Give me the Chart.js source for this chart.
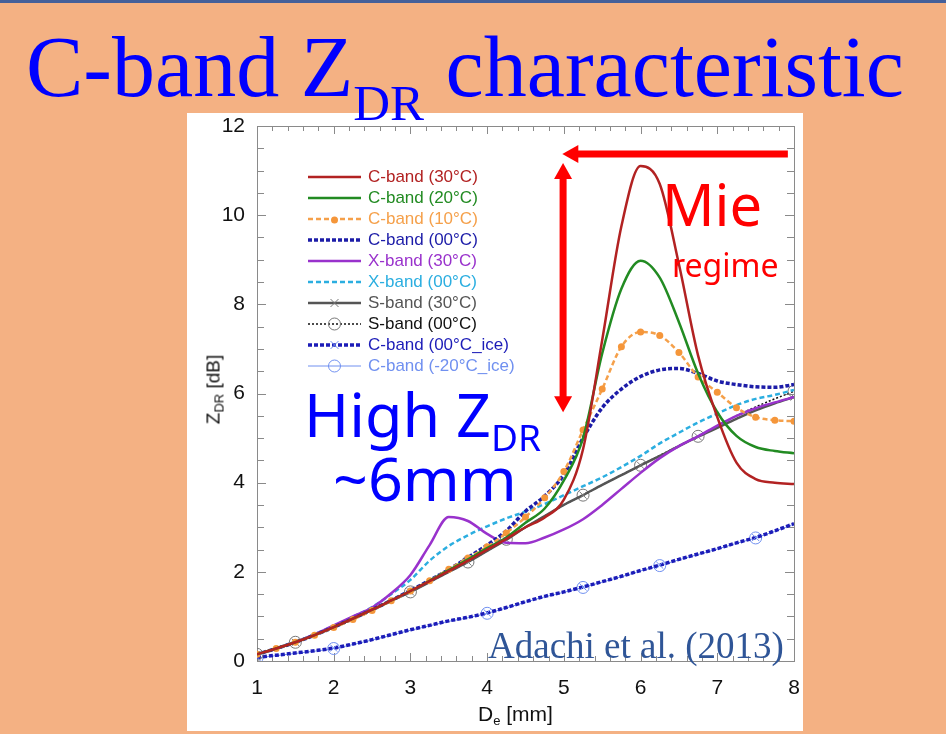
<!DOCTYPE html>
<html>
<head>
<meta charset="utf-8">
<script src="https://cdn.jsdelivr.net/npm/chart.js@4.4.0/dist/chart.umd.min.js"></script>
<style>
  body { margin: 0; width: 946px; height: 734px; background: #F4B183; position: relative; overflow: hidden; font-family: "Liberation Sans", Arial, sans-serif; }
  #topline { position: absolute; left: 0; top: 0; width: 946px; height: 3px; background: #44609A; }
  #panel { position: absolute; left: 187px; top: 113px; width: 616px; height: 618px; background: #fff; }
  #panel canvas { position: absolute; left: 0; top: 0; }
  .t { position: absolute; white-space: nowrap; line-height: 1; }
  .title { font-family: "Liberation Serif", "Times New Roman", serif; font-size: 86px; color: #0000FF; left: 26px; top: 24px; z-index: 5; }
  .title .sub { font-size: 51px; position: relative; top: 24px; }
  .mie { font-family: "Noto Sans", sans-serif; color: #FF0000; z-index: 5; }
  .high { font-family: "Noto Sans", sans-serif; color: #0000FF; font-size: 61px; z-index: 5; }
  .high .sub { font-size: 37px; position: relative; top: 14px; }
  .cite { font-family: "Liberation Serif", "Times New Roman", serif; color: #2F5597; font-size: 37px; left: 488px; top: 627px; z-index: 5; }
  .axt { font-size: 21px; color: #111; z-index: 5; }
  .axt .s { font-size: 13px; position: relative; top: 4px; }
</style>
</head>
<body>
<div id="topline"></div>
<div id="panel"><canvas id="chart" width="616" height="618"></canvas></div>

<div class="t title">C-band Z<span class="sub">DR</span> characteristic</div>
<div class="t mie" style="font-size:58px;left:662px;top:175px;">Mie</div>
<div class="t mie" style="font-size:32px;left:672px;top:249px;">regime</div>
<div class="t high" style="left:304px;top:383px;">High Z<span class="sub">DR</span></div>
<div class="t high" style="left:333px;top:447px;">~6mm</div>
<div class="t cite">Adachi et al. (2013)</div>
<div class="t axt" style="left:478px;top:703px;">D<span class="s">e</span> [mm]</div>
<div class="t axt" style="left:163px;top:380px;width:100px;text-align:center;font-size:19px;transform:rotate(-90deg);">Z<span class="s">DR</span> [dB]</div>

<script>
// --- datos (Adachi et al. 2013) ---
const De = [1.0, 1.25, 1.5, 1.75, 2.0, 2.25, 2.5, 2.75, 3.0, 3.25, 3.5, 3.75, 4.0, 4.25, 4.5, 4.75,
            5.0, 5.25, 5.5, 5.75, 6.0, 6.25, 6.5, 6.75, 7.0, 7.25, 7.5, 7.75, 8.0];

const cBand30 = [0.15, 0.28, 0.42, 0.58, 0.76, 0.95, 1.15, 1.36, 1.57, 1.79, 2.02, 2.25, 2.5, 2.74, 3.0, 3.22,
                 3.62, 4.75, 7.2, 9.75, 11.1, 10.7, 8.9, 6.85, 5.47, 4.45, 4.08, 4.0, 3.97];
const cBand20 = [0.15, 0.28, 0.42, 0.58, 0.76, 0.95, 1.15, 1.36, 1.57, 1.8, 2.04, 2.28, 2.53, 2.77, 3.1, 3.42,
                 4.05, 5.0, 6.9, 8.35, 8.98, 8.6, 7.6, 6.45, 5.58, 5.05, 4.8, 4.71, 4.66];
const cBand10 = [0.15, 0.28, 0.42, 0.58, 0.75, 0.93, 1.13, 1.35, 1.57, 1.8, 2.06, 2.31, 2.56, 2.87, 3.23, 3.66,
                 4.25, 5.18, 6.1, 7.05, 7.38, 7.3, 6.92, 6.37, 6.03, 5.68, 5.47, 5.4, 5.38];
const cBand00 = [0.15, 0.28, 0.42, 0.58, 0.76, 0.95, 1.15, 1.36, 1.58, 1.81, 2.05, 2.32, 2.6, 2.92, 3.36, 3.7,
                 4.18, 5.0, 5.68, 6.1, 6.38, 6.53, 6.56, 6.45, 6.28, 6.2, 6.15, 6.14, 6.2];
const xBand30 = [0.15, 0.28, 0.42, 0.6, 0.8, 1.0, 1.2, 1.52, 1.93, 2.6, 3.23, 3.14, 2.85, 2.65, 2.64, 2.77,
                 2.95, 3.18, 3.5, 3.86, 4.22, 4.55, 4.82, 5.04, 5.28, 5.5, 5.67, 5.8, 5.92];
const xBand00 = [0.15, 0.28, 0.42, 0.6, 0.79, 0.99, 1.21, 1.5, 1.82, 2.25, 2.58, 2.82, 3.02, 3.2, 3.35, 3.52,
                 3.72, 3.92, 4.12, 4.35, 4.6, 4.88, 5.12, 5.35, 5.55, 5.74, 5.88, 5.97, 6.08];
const sBand30 = [0.15, 0.28, 0.42, 0.58, 0.76, 0.95, 1.15, 1.35, 1.55, 1.77, 2.0, 2.22, 2.47, 2.72, 3.0, 3.25,
                 3.5, 3.72, 3.95, 4.17, 4.39, 4.6, 4.82, 5.03, 5.23, 5.43, 5.62, 5.78, 5.92];
const sBand00 = [0.15, 0.28, 0.42, 0.58, 0.76, 0.95, 1.15, 1.35, 1.55, 1.77, 2.0, 2.22, 2.47, 2.73, 3.0, 3.25,
                 3.5, 3.72, 3.95, 4.17, 4.39, 4.61, 4.83, 5.04, 5.27, 5.5, 5.7, 5.88, 6.05];
const cIce00  = [0.08, 0.13, 0.18, 0.23, 0.29, 0.38, 0.48, 0.59, 0.7, 0.8, 0.9, 0.98, 1.08, 1.2, 1.33, 1.45,
                 1.55, 1.66, 1.78, 1.9, 2.03, 2.15, 2.28, 2.4, 2.52, 2.65, 2.77, 2.92, 3.08];
const cIce20  = [0.07, 0.12, 0.17, 0.22, 0.28, 0.37, 0.47, 0.58, 0.69, 0.79, 0.89, 0.97, 1.07, 1.19, 1.32, 1.44,
                 1.54, 1.65, 1.77, 1.89, 2.02, 2.14, 2.27, 2.39, 2.51, 2.64, 2.76, 2.91, 3.07];

// índices donde van los marcadores
const sMarks = [0, 2, 8, 11, 13, 17, 20, 23, 28];
const iceMarks = [0, 4, 12, 17, 21, 26];

const xTicks = [1, 2, 3, 4, 5, 6, 7, 8];
const yTicks = [0, 2, 4, 6, 8, 10, 12];

const xy = (vals) => vals.map((v, i) => ({ x: De[i], y: v }));
const marks = (list, r) => (c) => list.includes(c.dataIndex) ? r : 0;

const datasets = [
    { label: 'C-band (30°C)', data: xy(cBand30), borderColor: '#B22222', borderWidth: 2.5, pointRadius: 0 },
    { label: 'C-band (20°C)', data: xy(cBand20), borderColor: '#228B22', borderWidth: 2.5, pointRadius: 0 },
    { label: 'C-band (10°C)', data: xy(cBand10), borderColor: '#F5A04A', borderWidth: 2.5, borderDash: [5, 3],
      pointRadius: 3.5, pointBackgroundColor: '#F5963A', pointBorderWidth: 0, legendMark: 'dot' },
    { label: 'C-band (00°C)', data: xy(cBand00), borderColor: '#1C1CA8', borderWidth: 3.5, borderDash: [4, 2], pointRadius: 0 },
    { label: 'X-band (30°C)', data: xy(xBand30), borderColor: '#9932CC', borderWidth: 2.5, pointRadius: 0 },
    { label: 'X-band (00°C)', data: xy(xBand00), borderColor: '#2BAEE0', borderWidth: 2.5, borderDash: [5, 3], pointRadius: 0 },
    { label: 'S-band (30°C)', data: xy(sBand30), borderColor: '#555555', borderWidth: 2.5,
      pointStyle: 'crossRot', pointRadius: marks(sMarks, 5), pointBorderColor: '#777', pointBorderWidth: 1, legendMark: 'x' },
    { label: 'S-band (00°C)', data: xy(sBand00), borderColor: '#111111', borderWidth: 1.5, borderDash: [2, 2],
      pointStyle: 'circle', pointRadius: marks(sMarks, 6), pointBackgroundColor: 'rgba(0,0,0,0)', pointBorderColor: '#777', pointBorderWidth: 1, legendMark: 'o' },
    { label: 'C-band (00°C_ice)', data: xy(cIce00), borderColor: '#1C1CB8', borderWidth: 3.5, borderDash: [4, 2],
      pointStyle: 'crossRot', pointRadius: marks(iceMarks, 5), pointBorderColor: '#7090F0', pointBorderWidth: 1, legendMark: 'x' },
    { label: 'C-band (-20°C_ice)', data: xy(cIce20), borderColor: '#7090F0', borderWidth: 1,
      pointStyle: 'circle', pointRadius: marks(iceMarks, 6), pointBackgroundColor: 'rgba(0,0,0,0)', pointBorderColor: '#7090F0', pointBorderWidth: 1, legendMark: 'o' }
];
datasets.forEach(d => { d.fill = false; d.cubicInterpolationMode = 'monotone'; });

// --- marco con ticks hacia dentro ---
const frameTicks = {
    id: 'frameTicks',
    beforeDatasetsDraw(chart) {
        const { ctx, chartArea: a, scales: { x, y } } = chart;
        ctx.save();
        ctx.strokeStyle = '#8a8a8a';
        ctx.lineWidth = 1;
        ctx.strokeRect(a.left + 0.5, a.top + 0.5, a.right - a.left, a.bottom - a.top);
        ctx.beginPath();
        for (let k = 0; k <= 35; k++) {
            const v = 1 + k * 0.2;
            const px = Math.round(x.getPixelForValue(v)) + 0.5;
            const len = k % 5 === 0 ? 8 : 5;
            ctx.moveTo(px, a.bottom); ctx.lineTo(px, a.bottom - len);
            ctx.moveTo(px, a.top); ctx.lineTo(px, a.top + len);
        }
        for (let k = 0; k <= 24; k++) {
            const py = Math.round(y.getPixelForValue(k * 0.5)) + 0.5;
            const len = k % 4 === 0 ? 9 : 7;
            ctx.moveTo(a.left, py); ctx.lineTo(a.left + len, py);
            ctx.moveTo(a.right, py); ctx.lineTo(a.right - len, py);
        }
        ctx.stroke();
        ctx.restore();
    }
};

// --- leyenda dentro del área ---
const insideLegend = {
    id: 'insideLegend',
    afterDraw(chart) {
        const ctx = chart.ctx;
        const x0 = 121, x1 = 174, tx = 181, y0 = 64, dy = 21;
        ctx.save();
        ctx.font = '17px "Liberation Sans", Arial, sans-serif';
        ctx.textBaseline = 'middle';
        chart.data.datasets.forEach((d, i) => {
            const yy = y0 + i * dy;
            ctx.strokeStyle = d.borderColor;
            ctx.lineWidth = d.borderWidth;
            ctx.setLineDash(d.borderDash || []);
            ctx.beginPath(); ctx.moveTo(x0, yy); ctx.lineTo(x1, yy); ctx.stroke();
            ctx.setLineDash([]);
            const mx = (x0 + x1) / 2;
            if (d.legendMark === 'dot') {
                ctx.fillStyle = d.pointBackgroundColor;
                ctx.beginPath(); ctx.arc(mx, yy + 1, 3.5, 0, Math.PI * 2); ctx.fill();
            } else if (d.legendMark === 'x') {
                ctx.strokeStyle = d.pointBorderColor; ctx.lineWidth = 1;
                ctx.beginPath();
                ctx.moveTo(mx - 4, yy - 4); ctx.lineTo(mx + 4, yy + 4);
                ctx.moveTo(mx + 4, yy - 4); ctx.lineTo(mx - 4, yy + 4);
                ctx.stroke();
            } else if (d.legendMark === 'o') {
                ctx.strokeStyle = d.pointBorderColor; ctx.lineWidth = 1;
                ctx.beginPath(); ctx.arc(mx, yy, 6, 0, Math.PI * 2); ctx.stroke();
            }
            ctx.fillStyle = d.borderColor;
            ctx.fillText(d.label, tx, yy);
        });
        ctx.restore();
    }
};

// --- flechas rojas (en unidades de datos) ---
const hArrow = { from: [7.92, 11.37], to: [4.98, 11.37] };
const vArrow = { top: [4.99, 11.17], bottom: [4.99, 5.58] };
const redArrows = {
    id: 'redArrows',
    afterDraw(chart) {
        const { ctx, scales: { x, y } } = chart;
        const head = (tx, ty, ang) => {
            ctx.save(); ctx.translate(tx, ty); ctx.rotate(ang);
            ctx.beginPath(); ctx.moveTo(0, 0); ctx.lineTo(-16, -9); ctx.lineTo(-16, 9); ctx.closePath(); ctx.fill();
            ctx.restore();
        };
        ctx.save();
        ctx.strokeStyle = '#FF0000'; ctx.fillStyle = '#FF0000'; ctx.lineWidth = 7;
        const hx0 = x.getPixelForValue(hArrow.from[0]), hx1 = x.getPixelForValue(hArrow.to[0]), hy = y.getPixelForValue(hArrow.from[1]);
        ctx.beginPath(); ctx.moveTo(hx0, hy); ctx.lineTo(hx1 + 14, hy); ctx.stroke();
        head(hx1, hy, Math.PI);
        const vx = x.getPixelForValue(vArrow.top[0]), vy0 = y.getPixelForValue(vArrow.top[1]), vy1 = y.getPixelForValue(vArrow.bottom[1]);
        ctx.beginPath(); ctx.moveTo(vx, vy0 + 14); ctx.lineTo(vx, vy1 - 14); ctx.stroke();
        head(vx, vy0, -Math.PI / 2);
        head(vx, vy1, Math.PI / 2);
        ctx.restore();
    }
};

new Chart(document.getElementById('chart'), {
    type: 'line',
    data: { datasets },
    options: {
        responsive: false,
        animation: false,
        layout: { padding: { top: 13, right: 9, left: 0, bottom: 0 } },
        plugins: { legend: { display: false }, tooltip: { enabled: false } },
        scales: {
            x: {
                type: 'linear', min: 1, max: 8,
                afterBuildTicks: s => { s.ticks = xTicks.map(v => ({ value: v })); },
                afterFit: s => { s.height = 70; s.paddingLeft = 0; s.paddingRight = 0; },
                grid: { display: false, drawTicks: false },
                border: { display: false },
                ticks: { color: '#111', padding: 15, font: { size: 21, family: '"Liberation Sans", Arial, sans-serif' } }
            },
            y: {
                type: 'linear', min: 0, max: 12,
                afterBuildTicks: s => { s.ticks = yTicks.map(v => ({ value: v })); },
                afterFit: s => { s.width = 70; s.paddingTop = 0; s.paddingBottom = 0; },
                grid: { display: false, drawTicks: false },
                border: { display: false },
                ticks: { color: '#111', padding: 12, font: { size: 21, family: '"Liberation Sans", Arial, sans-serif' } }
            }
        }
    },
    plugins: [frameTicks, insideLegend, redArrows]
});
</script>
</body>
</html>
